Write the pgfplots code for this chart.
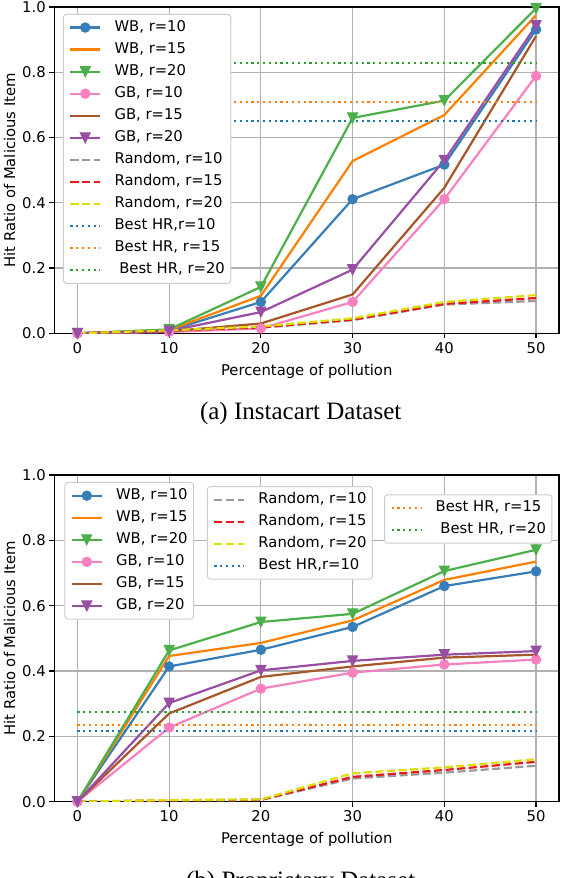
\documentclass[border=0pt]{standalone}
\usepackage{fontspec}
\setmainfont{DejaVu Sans}
\newfontfamily\capfont{Liberation Serif}
\usepackage{pgfplots}
\pgfplotsset{compat=1.18}

\definecolor{cB}{HTML}{377EB8}
\definecolor{cO}{HTML}{FF7F00}
\definecolor{cG}{HTML}{4DAF4A}
\definecolor{cP}{HTML}{F781BF}
\definecolor{cBr}{HTML}{A65628}
\definecolor{cPu}{HTML}{984EA3}
\definecolor{cGr}{HTML}{999999}
\definecolor{cR}{HTML}{E41A1C}
\definecolor{cY}{HTML}{DEDE00}
\definecolor{tB}{HTML}{1F77B4}
\definecolor{tO}{HTML}{FF7F0E}
\definecolor{tG}{HTML}{2CA02C}

\pgfdeclareplotmark{mplv}{%
  \pgfpathmoveto{\pgfqpoint{0pt}{-\pgfplotmarksize}}%
  \pgfpathlineto{\pgfqpoint{-\pgfplotmarksize}{\pgfplotmarksize}}%
  \pgfpathlineto{\pgfqpoint{\pgfplotmarksize}{\pgfplotmarksize}}%
  \pgfpathclose
  \pgfusepathqfillstroke}

\newcommand{\fs}{\fontsize{14.8}{17}\selectfont}

\pgfplotsset{
  lw/.style={line width=2.2pt},
  wb10/.style={color=cB, lw, solid, mark=*, mark size=4.7pt, mark options={solid, line width=1pt, sharp corners}},
  wb15/.style={color=cO, lw, solid, mark=none},
  wb20/.style={color=cG, lw, solid, mark=mplv, mark size=5pt, mark options={solid, line width=1pt, sharp corners}},
  gb10/.style={color=cP, lw, solid, mark=*, mark size=4.7pt, mark options={solid, line width=1pt, sharp corners}},
  gb15/.style={color=cBr, lw, solid, mark=none},
  gb20/.style={color=cPu, lw, solid, mark=mplv, mark size=5pt, mark options={solid, line width=1pt, sharp corners}},
  rd10/.style={color=cGr, lw, mark=none, dash pattern=on 8.1pt off 3.5pt},
  rd15/.style={color=cR, lw, mark=none, dash pattern=on 8.1pt off 3.5pt},
  rd20/.style={color=cY, lw, mark=none, dash pattern=on 8.1pt off 3.5pt},
  hr10/.style={color=tB, lw, mark=none, dash pattern=on 2.2pt off 3.6pt},
  hr15/.style={color=tO, lw, mark=none, dash pattern=on 2.2pt off 3.6pt},
  hr20/.style={color=tG, lw, mark=none, dash pattern=on 2.2pt off 3.6pt},
  mylegend/.style={
    legend cell align=left,
    legend image code/.code={%
      \draw[mark repeat=2,mark phase=2] plot coordinates {(0pt,0pt) (14.8pt,0pt) (29.6pt,0pt)};
      \path (43pt,0pt);},
    legend style={font=\fs, draw=black!20, line width=1pt, fill=white,
      rounded corners=3pt, inner xsep=5.9pt, inner ysep=5.9pt, row sep=7.45pt,
      nodes={inner sep=0pt, text height=10.9pt, text depth=3.7pt}},
  },
  common/.style={
    scale only axis, width=504.5pt,
    xmin=-2.5, xmax=52.5, ymin=0, ymax=1,
    xtick={0,10,20,30,40,50}, ytick={0,0.2,0.4,0.6,0.8,1.0},
    /pgf/number format/assume math mode=true,
    y tick label style={/pgf/number format/fixed, /pgf/number format/fixed zerofill, /pgf/number format/precision=1},
    tick label style={font=\fs},
    label style={font=\fs},
    grid=major, major grid style={color=black!31, line width=1.2pt},
    axis line style={line width=1.2pt, black},
    tick align=outside, tick pos=left, major tick length=5.2pt,
    tick style={black, line width=1.2pt},
    xlabel={Percentage of pollution}, ylabel={Hit Ratio of Malicious Item},
    xlabel style={at={(axis description cs:0.5,-0.1294)}, anchor=base},
    ylabel style={at={(axis description cs:-0.0782,0.5)}, anchor=base},
    mylegend,
  },
  overlay/.style={scale only axis, width=504.5pt, hide axis,
    xmin=-2.5, xmax=52.5, ymin=0, ymax=1, mylegend},
}

\begin{document}
\begin{tikzpicture}
\useasboundingbox (0pt,0pt) rectangle (562pt,878pt);

% ---------------- (a) Instacart ----------------
\begin{axis}[common, height=326.3pt, at={(54.5pt,544.7pt)}, anchor=south west,
  legend style={at={(0.0168,0.979)}, anchor=north west}]
\addplot[wb10] coordinates {(0,0) (10,0.008) (20,0.096) (30,0.411) (40,0.517) (50,0.931)};
\addlegendentry{WB, r=10}
\addplot[wb15] coordinates {(0,0) (10,0.010) (20,0.115) (30,0.528) (40,0.669) (50,0.975)};
\addlegendentry{WB, r=15}
\addplot[wb20] coordinates {(0,0) (10,0.012) (20,0.142) (30,0.660) (40,0.713) (50,0.996)};
\addlegendentry{WB, r=20}
\addplot[gb10] coordinates {(0,0) (10,0.004) (20,0.015) (30,0.096) (40,0.411) (50,0.789)};
\addlegendentry{GB, r=10}
\addplot[gb15] coordinates {(0,0) (10,0.006) (20,0.030) (30,0.119) (40,0.446) (50,0.911)};
\addlegendentry{GB, r=15}
\addplot[gb20] coordinates {(0,0) (10,0.007) (20,0.065) (30,0.195) (40,0.530) (50,0.943)};
\addlegendentry{GB, r=20}
\addplot[rd10] coordinates {(0,0) (10,0.008) (20,0.017) (30,0.040) (40,0.088) (50,0.099)};
\addlegendentry{Random, r=10}
\addplot[rd15] coordinates {(0,0) (10,0.008) (20,0.018) (30,0.042) (40,0.090) (50,0.108)};
\addlegendentry{Random, r=15}
\addplot[rd20] coordinates {(0,0) (10,0.009) (20,0.021) (30,0.046) (40,0.096) (50,0.117)};
\addlegendentry{Random, r=20}
\addplot[hr10] coordinates {(0,0.650) (50,0.650)};
\addlegendentry{Best HR,r=10}
\addplot[hr15] coordinates {(0,0.710) (50,0.710)};
\addlegendentry{Best HR, r=15}
\addplot[hr20] coordinates {(0,0.829) (50,0.829)};
\addlegendentry{\hspace*{4.7pt}Best HR, r=20}
\end{axis}

\node[anchor=base, font=\capfont\fontsize{25}{30}\selectfont] at (300.7pt,458pt) {(a) Instacart Dataset};

% ---------------- (b) Proprietary ----------------
\begin{axis}[common, height=326.7pt, at={(54.5pt,76.3pt)}, anchor=south west,
  legend style={at={(0.0198,0.9786)}, anchor=north west}]
\addplot[wb10] coordinates {(0,0) (10,0.414) (20,0.465) (30,0.535) (40,0.660) (50,0.705)};
\addlegendentry{WB, r=10}
\addplot[wb15] coordinates {(0,0) (10,0.446) (20,0.486) (30,0.555) (40,0.679) (50,0.735)};
\addlegendentry{WB, r=15}
\addplot[wb20] coordinates {(0,0) (10,0.463) (20,0.550) (30,0.575) (40,0.706) (50,0.771)};
\addlegendentry{WB, r=20}
\addplot[gb10] coordinates {(0,0) (10,0.227) (20,0.346) (30,0.395) (40,0.420) (50,0.435)};
\addlegendentry{GB, r=10}
\addplot[gb15] coordinates {(0,0) (10,0.270) (20,0.382) (30,0.414) (40,0.441) (50,0.450)};
\addlegendentry{GB, r=15}
\addplot[gb20] coordinates {(0,0) (10,0.302) (20,0.402) (30,0.431) (40,0.450) (50,0.461)};
\addlegendentry{GB, r=20}
\addplot[rd10, forget plot] coordinates {(0,0) (10,0.004) (20,0.005) (30,0.071) (40,0.089) (50,0.110)};
\addplot[rd15, forget plot] coordinates {(0,0) (10,0.004) (20,0.006) (30,0.076) (40,0.097) (50,0.122)};
\addplot[rd20, forget plot] coordinates {(0,0) (10,0.005) (20,0.007) (30,0.087) (40,0.105) (50,0.130)};
\addplot[hr10, forget plot] coordinates {(0,0.216) (50,0.216)};
\addplot[hr15, forget plot] coordinates {(0,0.234) (50,0.234)};
\addplot[hr20, forget plot] coordinates {(0,0.275) (50,0.275)};
\end{axis}

\begin{axis}[overlay, height=326.7pt, at={(54.5pt,76.3pt)}, anchor=south west,
  legend style={at={(0.302,0.966)}, anchor=north west}]
\addlegendimage{rd10}
\addlegendentry{Random, r=10}
\addlegendimage{rd15}
\addlegendentry{Random, r=15}
\addlegendimage{rd20}
\addlegendentry{Random, r=20}
\addlegendimage{hr10}
\addlegendentry{Best HR,r=10}
\end{axis}

\begin{axis}[overlay, height=326.7pt, at={(54.5pt,76.3pt)}, anchor=south west,
  legend style={at={(0.987,0.941)}, anchor=north east}]
\addlegendimage{hr15}
\addlegendentry{Best HR, r=15}
\addlegendimage{hr20}
\addlegendentry{\hspace*{4.7pt}Best HR, r=20}
\end{axis}

\node[anchor=base, font=\capfont\fontsize{25}{30}\selectfont] at (300.7pt,-10.4pt) {(b) Proprietary Dataset};
\end{tikzpicture}
\end{document}
